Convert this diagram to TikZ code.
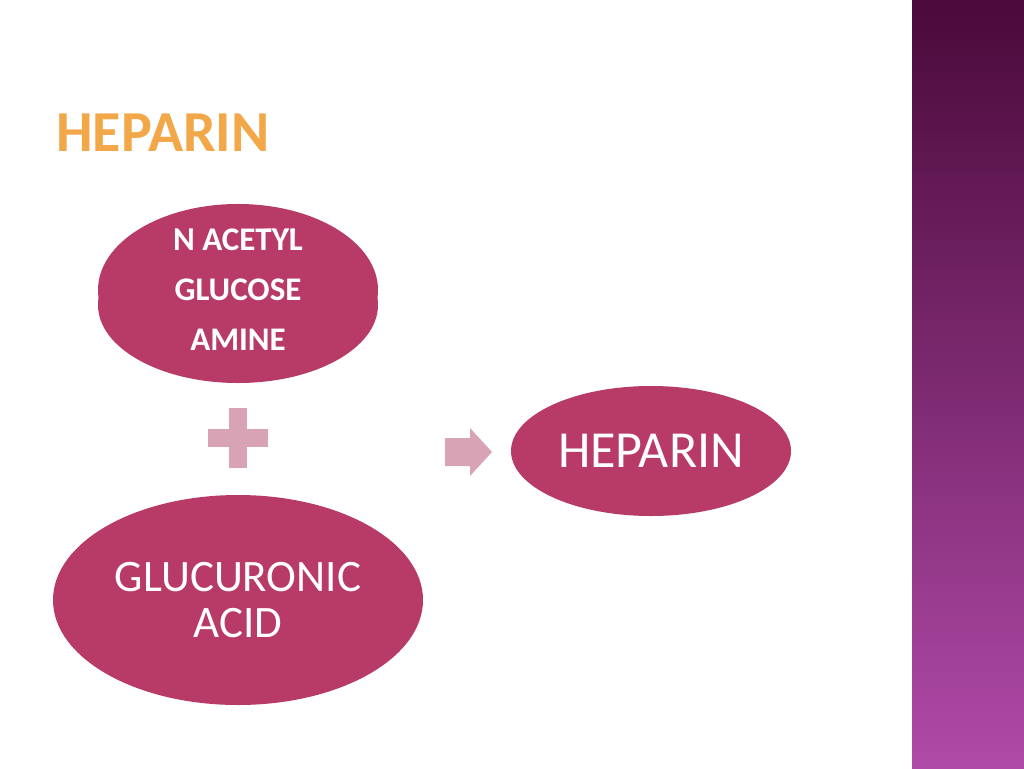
\documentclass[tikz,border=0pt]{standalone}
\usepackage{fontspec}
\setmainfont{Carlito}
\usetikzlibrary{shapes.geometric,shapes.arrows}
\definecolor{ell}{HTML}{B83A66}
\definecolor{pale}{HTML}{D9A3B6}
\definecolor{ttl}{HTML}{F2A848}
\definecolor{bartop}{HTML}{4A0A3A}
\definecolor{barbot}{HTML}{B04AA8}
\tikzset{blob/.style={ellipse,fill=ell,text=white,align=center,inner sep=0pt}}
\begin{document}
\begin{tikzpicture}[x=1pt,y=-1pt]
\useasboundingbox (0,0) rectangle (1024,768);
\fill[white] (0,0) rectangle (1024,768);
\shade[top color=bartop,bottom color=barbot] (912,0) rectangle (1024,768);
\node[anchor=west,text=ttl,font=\bfseries\fontsize{58}{58}\selectfont,inner sep=0pt] (title) at (56,133) {HEPARIN};
\node[blob,minimum width=280,minimum height=156,font=\bfseries\fontsize{33}{50}\selectfont] (a) at (238,290) {N ACETYL\\GLUCOSE\\AMINE};
\node[ellipse,fill=ell,minimum width=280,minimum height=156] (a2) at (238,305) {};
\node[text=white,align=center,font=\bfseries\fontsize{33}{50}\selectfont] (at) at (238,290) {N ACETYL\\GLUCOSE\\AMINE};
\node[blob,minimum width=370,minimum height=210,font=\fontsize{45}{46}\selectfont] (b) at (238,600) {GLUCURONIC\\ACID};
\node[blob,minimum width=280,minimum height=130,font=\fontsize{52}{52}\selectfont] (c) at (651,451) {HEPARIN};
\fill[pale] (229,408) rectangle (247,468);
\fill[pale] (208,429) rectangle (268,447);
\fill[pale] (445,438) -- (470,438) -- (470,428) -- (492,452) -- (470,476) -- (470,466) -- (445,466) -- cycle;
\end{tikzpicture}
\end{document}
